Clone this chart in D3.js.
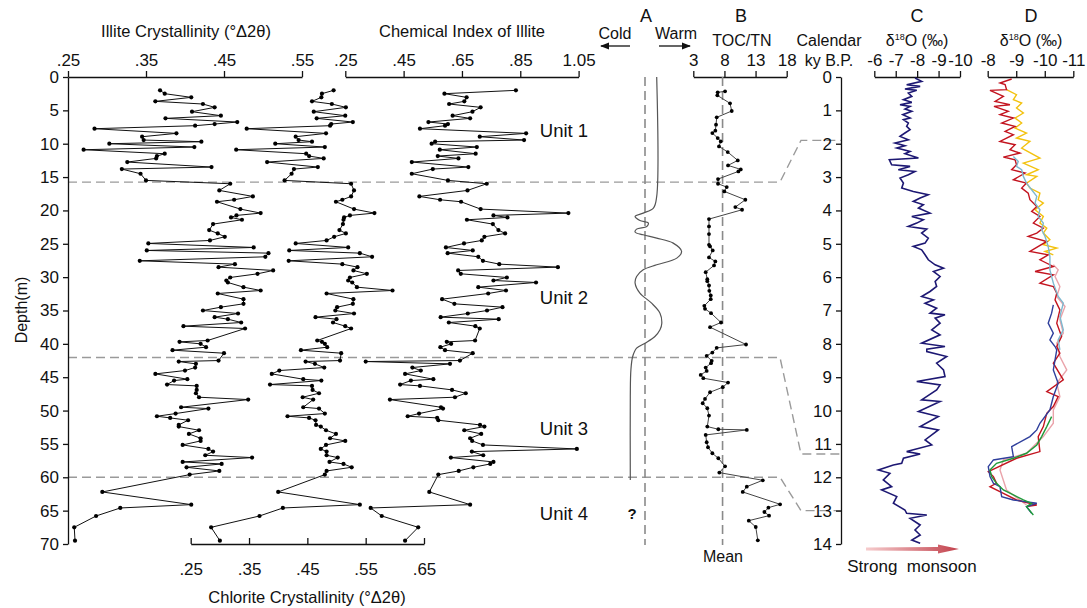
<!DOCTYPE html>
<html>
<head>
<meta charset="utf-8">
<script src="https://cdn.jsdelivr.net/npm/d3@7"></script>
<style>
body{margin:0;background:#fff;}
</style>
</head>
<body>
<svg id="chart" width="1087" height="608"></svg>
<script>
// sample depths (m), shared by the three clay mineral records
var depths = [2.0,2.5,3.05,3.65,4.05,4.55,5.2,5.8,6.2,6.75,
  7.05,7.3,7.75,8.45,8.95,9.45,9.7,10.0,10.5,10.9,
  11.5,11.85,12.2,12.75,13.5,13.8,14.5,15.5,16.0,17.0,
  17.9,18.4,18.7,19.8,20.4,20.75,21.05,21.4,22.05,22.95,
  23.45,23.95,24.5,24.95,25.55,26.0,26.4,26.95,27.55,28.05,
  28.5,29.0,29.5,30.05,30.5,30.8,31.5,32.0,32.45,33.3,
  34.0,34.5,35.0,35.45,36.0,36.3,36.8,37.35,37.7,39.5,
  39.7,40.0,40.5,40.95,41.4,42.5,42.65,43.0,43.55,44.0,
  44.5,45.3,45.5,46.1,46.3,46.9,47.4,48.0,48.35,49.5,
  49.7,50.45,50.85,51.1,51.45,52.15,52.4,52.95,53.5,54.15,
  54.55,55.15,55.75,56.15,56.7,57.05,57.7,58.0,58.5,59.05,
  59.6,62.2,64.1,64.6,65.8,67.5,69.5]

var illite = [.368,.374,.408,.362,.423,.438,.409,.446,.375,.467,
  .438,.413,.284,.389,.345,.347,.421,.303,.412,.270,
  .374,.364,.363,.326,.434,.319,.343,.350,.458,.444,
  .487,.463,.441,.471,.497,.466,.459,.473,.436,.431,
  .442,.451,.432,.353,.488,.351,.507,.503,.342,.464,
  .443,.513,.493,.458,.453,.455,.475,.497,.442,.475,
  .475,.446,.423,.468,.438,.455,.472,.398,.477,.429,
  .393,.420,.427,.384,.450,.443,.392,.414,.413,.400,
  .362,.403,.386,.377,.415,.415,.414,.418,.481,.395,
  .430,.388,.364,.381,.404,.392,.392,.418,.405,.420,
  .420,.397,.430,.436,.426,.486,.397,.447,.402,.444,
  .406,.294,.408,.317,.286,.258,.259]

var chlorite = [.495,.475,.474,.458,.492,.516,.461,.515,.466,.528,
  .491,.489,.346,.482,.430,.435,.458,.395,.480,.328,
  .448,.453,.478,.381,.468,.427,.423,.411,.525,.530,
  .525,.510,.499,.530,.565,.523,.513,.512,.511,.505,
  .516,.496,.483,.430,.520,.419,.540,.561,.418,.510,
  .536,.529,.552,.523,.520,.527,.535,.596,.483,.529,
  .528,.501,.498,.530,.464,.500,.494,.515,.525,.467,
  .475,.480,.484,.439,.508,.506,.447,.463,.479,.402,
  .389,.443,.474,.386,.458,.459,.470,.442,.460,.443,
  .470,.480,.416,.453,.464,.465,.473,.482,.499,.489,
  .515,.482,.473,.483,.483,.502,.488,.512,.526,.483,
  .480,.400,.540,.408,.368,.285,.300]

var chemIndex = [.835,.590,.666,.658,.606,.714,.686,.618,.678,.535,
  .602,.592,.506,.870,.711,.863,.558,.546,.701,.574,
  .697,.567,.638,.478,.672,.550,.478,.602,.735,.669,
  .504,.575,.647,.714,1.015,.758,.806,.667,.756,.775,
  .798,.727,.718,.657,.595,.687,.601,.706,.722,.778,
  .979,.637,.646,.804,.758,.904,.706,.801,.740,.582,
  .624,.789,.736,.670,.577,.776,.605,.696,.711,.695,
  .598,.613,.576,.592,.687,.643,.320,.609,.480,.509,
  .455,.552,.475,.438,.506,.616,.663,.626,.403,.578,
  .585,.503,.464,.565,.569,.712,.727,.658,.716,.678,
  .685,.722,1.044,.684,.723,.612,.758,.747,.689,.639,
  .569,.538,.678,.337,.375,.500,.455]

// TOC/TN record
var tocDepths = [2.15,2.3,2.75,3.95,5.1,6.05,7.15,8.05,8.4,9.15,
  9.65,10.4,11.25,12.5,13.25,13.85,14.15,15.3,16.0,16.5,
  17.15,18.4,19.5,19.9,21.3,22.4,23.55,25.15,25.4,26.0,
  27.05,27.65,28.25,29.25,30.3,30.6,31.25,32.05,32.75,33.3,
  34.3,34.75,35.4,36.8,37.5,40.1,40.6,41.3,41.8,42.55,
  42.9,43.55,44.05,44.65,45.15,45.8,46.5,47.25,48.25,48.9,
  49.65,50.75,52.4,52.8,52.9,53.65,54.75,55.5,56.4,57.15,
  58.35,59.3,60.45,61.4,62.2,64.05,64.55,65.2,65.75,66.5,
  67.45,69.45]
var tocTn = [8.10,6.92,6.86,8.90,9.17,6.76,6.65,6.54,6.06,6.92,
  7.41,7.13,8.53,10.14,8.58,10.62,10.24,6.97,6.97,8.37,
  7.98,11.36,9.75,10.83,5.52,5.52,5.52,5.52,5.69,6.12,
  5.52,6.54,6.33,4.99,5.25,5.25,5.52,5.57,5.80,5.80,
  4.77,4.88,5.85,7.45,5.69,11.47,6.76,6.06,5.15,5.96,
  5.85,4.99,5.15,4.19,4.61,8.58,7.73,5.69,4.88,4.51,
  5.25,5.52,5.25,7.02,11.59,4.99,5.15,5.36,6.06,7.02,
  8.10,7.18,14.16,11.59,10.94,16.94,15.06,14.42,15.17,11.91,
  13.03,13.36]
var tocMean = 7.7

// panel A: schematic cold/warm curve
var climateDepths = [0,17.9,19.65,20.4,20.9,21.5,21.9,22.4,22.8,23.25,
  23.65,24.15,24.9,26.15,27.15,28.15,28.9,29.9,30.9,32.4,
  33.9,35.4,36.9,37.9,38.9,39.9,40.65,41.9,43.9,47.9,60.4]
var climateIndex = [0.39,0.39,0.28,-0.06,-0.33,-0.17,0.11,0.06,-0.28,-0.33,
  -0.06,0.39,0.94,1.22,1.06,0.39,-0.06,-0.28,-0.33,-0.17,
  0.22,0.5,0.56,0.5,0.33,0,-0.28,-0.41,-0.47,-0.49,-0.49]

// unit boundaries and their ages
var unitNames = ["Unit 1", "Unit 2", "Unit 3", "Unit 4"]
var unitLabelDepths = [8.1, 33.1, 52.8, 65.5]
var boundaryDepths = [15.75, 42.05, 60]
var boundaryAges = [1.9, 11.3, 13]

// panel C: d18O record
var cAges = [0.03,0.13,0.23,0.28,0.36,0.40,0.48,0.58,0.68,0.76,
  0.83,0.88,0.96,1.03,1.13,1.23,1.28,1.38,1.48,1.58,
  1.68,1.78,1.88,1.98,2.06,2.13,2.23,2.30,2.43,2.48,
  2.63,2.68,2.78,2.83,2.93,3.03,3.18,3.33,3.43,3.53,
  3.63,3.73,3.83,3.93,4.08,4.18,4.28,4.38,4.48,4.56,
  4.68,4.83,4.98,5.08,5.18,5.33,5.48,5.63,5.73,5.83,
  5.98,6.13,6.28,6.43,6.58,6.68,6.78,6.93,7.08,7.13,
  7.23,7.38,7.58,7.73,7.98,8.08,8.16,
  8.23,8.38,8.58,8.78,8.98,9.13,9.23,9.38,9.68,9.73,
  10.03,10.18,10.48,10.58,10.88,11.03,11.23,11.30,11.43,11.58,
  11.63,11.78,11.88,12.08,12.28,12.38,12.58,12.78,12.98,13.08,
  13.13,13.23,13.43,13.58,13.73,13.88,13.98]
var cValues = [-7.90,-8.21,-7.51,-8.14,-7.43,-7.98,-7.59,-7.75,-7.36,-7.75,
  -7.20,-7.67,-7.43,-7.75,-7.33,-7.67,-7.36,-7.59,-7.51,-7.67,
  -7.43,-7.20,-7.59,-6.97,-7.43,-7.05,-7.67,-7.43,-8.06,-6.70,
  -6.81,-7.67,-7.12,-7.90,-7.59,-7.20,-7.36,-7.28,-7.82,-8.52,
  -8.14,-7.82,-8.29,-8.06,-8.60,-7.75,-8.29,-7.98,-7.59,-8.45,
  -8.21,-8.52,-8.37,-7.82,-8.21,-8.37,-8.52,-8.84,-9.23,-8.76,
  -9.07,-8.84,-8.91,-8.60,-8.21,-8.76,-8.37,-8.91,-8.60,-9.30,
  -8.84,-9.07,-8.68,-9.07,-8.21,-9.30,-8.45,
  -8.45,-9.38,-8.91,-9.23,-9.30,-7.98,-9.07,-8.91,-8.21,-9.07,
  -8.06,-8.99,-8.14,-8.99,-8.37,-8.68,-7.51,-8.14,-7.36,-7.28,
  -6.89,-6.19,-6.73,-6.42,-6.81,-6.34,-7.05,-6.89,-7.43,-7.51,
  -8.45,-7.67,-8.14,-7.90,-8.14,-7.75,-8.14]

// panel D: several d18O records
var dPinkAges = [5.63,5.78,5.98,6.28,6.58,6.88,7.28,7.68,7.98,8.38,8.78,9.18,9.58,9.98,10.38,10.78,11.28,11.48,11.78,12.38,12.68,12.83]
var dPinkValues = [-10.30,-10.47,-10.36,-10.53,-10.42,-10.71,-10.53,-10.65,-10.42,-10.53,-10.77,-10.42,-10.53,-10.30,-10.30,-9.95,-9.36,-8.55,-8.43,-8.66,-9.13,-9.36]

var dRedAges = [0.06,0.18,0.23,0.38,0.40,0.58,0.73,0.83,0.88,1.03,
  1.13,1.23,1.38,1.48,1.63,1.73,1.93,2.03,2.18,2.28,
  2.40,2.48,2.63,2.78,2.88,3.08,3.18,3.33,3.48,3.68,
  3.88,4.03,4.18,4.38,4.53,4.68,4.78,4.93,5.23,5.33,
  5.48,5.68,5.83,5.93,6.18,6.28,6.48,6.68,6.98,7.38,
  7.78,8.08,8.28,8.58,9.08,9.43,9.58,9.88,10.08,10.48,
  10.78,11.23,11.43,11.83,11.98,12.18,12.28,12.48,12.68,12.83,12.88]
var dRedValues = [-8.84,-8.43,-8.61,-8.66,-8.08,-8.55,-8.26,-8.78,-8.22,-8.72,
  -8.43,-8.90,-8.49,-8.96,-8.61,-8.90,-8.43,-8.96,-8.78,-9.13,
  -8.55,-8.96,-9.01,-8.84,-9.31,-8.90,-9.36,-9.19,-9.42,-9.48,
  -9.72,-9.54,-9.83,-9.60,-9.95,-9.72,-9.42,-10.07,-9.48,-10.12,
  -9.83,-10.30,-9.66,-10.30,-9.83,-10.30,-10.42,-10.36,-10.53,-10.42,
  -10.59,-10.42,-10.53,-10.30,-10.65,-10.07,-10.47,-10.30,-10.07,-9.95,
  -9.77,-9.83,-9.01,-8.02,-8.20,-8.31,-8.08,-8.55,-9.01,-9.72,-9.36]

var dYellowAges = [0.38,0.53,0.68,0.78,0.93,1.08,1.23,1.38,1.53,1.68,
  1.83,1.93,2.13,2.43,2.58,2.78,2.93,2.98,3.18,3.33,
  3.48,3.68,3.78,3.98,4.18,4.38,4.53,4.68,4.88,5.03,5.13,5.23,5.33]
var dYellowValues = [-8.66,-9.01,-8.90,-9.19,-9.01,-9.25,-8.96,-9.19,-8.96,-9.36,
  -9.01,-9.48,-9.19,-9.83,-9.25,-9.77,-9.36,-9.72,-9.36,-9.48,
  -9.83,-9.77,-9.95,-9.66,-9.95,-9.83,-10.07,-9.95,-10.18,-9.95,-10.42,-10.01,-10.30]

var dLightBlueAges = [2.38,2.53,2.68,2.78,2.98,3.18,3.38,3.58,3.78,3.98,
  4.18,4.38,4.58,4.78,5.08,5.38,5.78,6.18,6.58,6.78,7.18,7.58,7.88,8.18]
var dLightBlueValues = [-8.90,-9.07,-9.01,-9.19,-9.25,-9.36,-9.54,-9.72,-9.66,-9.83,
  -9.77,-9.95,-9.89,-10.01,-10.12,-10.18,-10.18,-10.30,-10.47,-10.65,-10.53,-10.65,-10.47,-10.53]

var dBlueAges = [6.83,7.08,7.38,7.68,7.88,8.08,8.18,8.78,9.18,9.58,
  9.98,10.38,10.58,10.78,11.08,11.38,11.48,11.68,11.98,12.18,
  12.28,12.58,12.68,12.78,12.88,13.08]
var dBlueValues = [-10.30,-10.24,-10.12,-10.30,-10.18,-10.36,-10.42,-10.30,-10.47,-10.30,
  -10.18,-9.83,-9.72,-9.48,-8.84,-8.90,-8.20,-8.02,-8.08,-8.20,
  -8.43,-8.49,-8.90,-9.72,-9.36,-9.54]

var dGreenAges = [10.18,10.48,10.78,11.03,11.28,11.43,11.58,11.78,11.98,12.18,12.38,12.53,12.68,12.78,12.88,13.13]
var dGreenValues = [-10.24,-10.07,-9.89,-9.72,-9.36,-8.90,-8.31,-8.08,-8.14,-8.31,-8.55,-8.90,-9.25,-9.54,-9.36,-9.60]

var illiteTicks = [0.25, 0.35, 0.45, 0.55]
var chemTicks = [0.25, 0.45, 0.65, 0.85, 1.05]
var chloriteTicks = [0.25, 0.35, 0.45, 0.55, 0.65]
var tocTicks = [3, 8, 13, 18]
var cTicks = [-6, -7, -8, -9, -10]
var dTicks = [-8, -9, -10, -11]
var depthTicks = d3.range(0, 71, 5)
var ageTicks = d3.range(0, 15)

var font = "'Liberation Sans', Arial, sans-serif"
var svg = d3.select("#chart").attr("font-family", font)

var yDepth = d3.scaleLinear().domain([0, 70]).range([77, 544])
var yAge = d3.scaleLinear().domain([0, 14]).range([77, 544])
var xIllite = d3.scaleLinear().domain([0.25, 0.55]).range([68, 302])
var xChlorite = d3.scaleLinear().domain([0.25, 0.65]).range([190.7, 424])
var xChem = d3.scaleLinear().domain([0.25, 1.05]).range([345.3, 578.6])
var xClimate = d3.scaleLinear().domain([-1, 1]).range([615, 675])
var xToc = d3.scaleLinear().domain([3, 18]).range([693.3, 786.7])
var xC = d3.scaleLinear().domain([-6, -10]).range([874.3, 960])
var xD = d3.scaleLinear().domain([-8, -11]).range([987.7, 1073.3])

var noZero = d => d3.format(".2f")(d).replace(/^0/, "")

function styleAxis(g, size){
  g.attr("font-family", font).attr("font-size", size)
  g.select(".domain").attr("stroke", "#111").attr("stroke-width", 1.3)
  g.selectAll(".tick line").attr("stroke", "#111").attr("stroke-width", 1.3)
  g.selectAll(".tick text").attr("fill", "#111")
}

function topAxis(scale, ticks, fmt){
  var g = svg.append("g")
    .attr("transform", "translate(0,77)")
    .call(d3.axisTop(scale).tickValues(ticks).tickFormat(fmt).tickSize(6).tickSizeOuter(0).tickPadding(5))
  styleAxis(g, 17)
}

// unit boundary dashed lines (behind everything)
boundaryDepths.forEach(function(d, i){
  var pts = [[68, yDepth(d)], [780, yDepth(d)], [801, yAge(boundaryAges[i])], [841, yAge(boundaryAges[i])]]
  svg.append("path")
    .attr("d", d3.line()(pts))
    .attr("fill", "none")
    .attr("stroke", "#9a9a9a")
    .attr("stroke-width", 1.4)
    .attr("stroke-dasharray", "9,5")
})

// axes
topAxis(xIllite, illiteTicks, noZero)
topAxis(xChem, chemTicks, noZero)
topAxis(xToc, tocTicks, d => String(d))
topAxis(xC, cTicks, d => String(d))
topAxis(xD, dTicks, d => String(d))

var gDepth = svg.append("g")
  .attr("transform", "translate(68,0)")
  .call(d3.axisLeft(yDepth).tickValues(depthTicks).tickSize(5).tickSizeOuter(0).tickPadding(4))
styleAxis(gDepth, 17)

var gAge = svg.append("g")
  .attr("transform", "translate(841,0)")
  .call(d3.axisLeft(yAge).tickValues(ageTicks).tickSize(5).tickSizeOuter(0).tickPadding(4))
styleAxis(gAge, 17)

var gChl = svg.append("g")
  .attr("transform", "translate(0,544)")
  .call(d3.axisBottom(xChlorite).tickValues(chloriteTicks).tickFormat(noZero).tickSize(-6).tickSizeOuter(0).tickPadding(19))
styleAxis(gChl, 17)

// depth profiles with markers
function profile(values, scale){
  var pts = depths.map((d, i) => [scale(values[i]), yDepth(d)])
  svg.append("path")
    .attr("d", d3.line()(pts))
    .attr("fill", "none")
    .attr("stroke", "#111")
    .attr("stroke-width", 1)
  svg.append("g").selectAll("circle")
    .data(pts)
    .enter()
    .append("circle")
      .attr("cx", d => d[0])
      .attr("cy", d => d[1])
      .attr("r", 2.1)
      .attr("fill", "#000")
}
profile(illite, xIllite)
profile(chlorite, xChlorite)
profile(chemIndex, xChem)

// panel A
svg.append("line")
  .attr("x1", xClimate(0)).attr("x2", xClimate(0))
  .attr("y1", 77).attr("y2", 545)
  .attr("stroke", "#8a8a8a").attr("stroke-width", 1.6).attr("stroke-dasharray", "9,5")
svg.append("path")
  .attr("d", d3.line().curve(d3.curveCatmullRom.alpha(0.5))(climateDepths.map((d, i) => [xClimate(climateIndex[i]), yDepth(d)])))
  .attr("fill", "none")
  .attr("stroke", "#555")
  .attr("stroke-width", 1.2)

// panel B
svg.append("line")
  .attr("x1", xToc(tocMean)).attr("x2", xToc(tocMean))
  .attr("y1", 77).attr("y2", 545)
  .attr("stroke", "#8a8a8a").attr("stroke-width", 1.6).attr("stroke-dasharray", "9,5")
var tocPts = tocDepths.map((d, i) => [xToc(tocTn[i]), yDepth(d)])
svg.append("path")
  .attr("d", d3.line()(tocPts))
  .attr("fill", "none")
  .attr("stroke", "#444")
  .attr("stroke-width", 1)
svg.append("g").selectAll("circle")
  .data(tocPts)
  .enter()
  .append("circle")
    .attr("cx", d => d[0])
    .attr("cy", d => d[1])
    .attr("r", 1.9)
    .attr("fill", "#000")

// panel C
svg.append("path")
  .attr("d", d3.line()(cAges.map((a, i) => [xC(cValues[i]), yAge(a)])))
  .attr("fill", "none")
  .attr("stroke", "#1d1873")
  .attr("stroke-width", 1.6)

// panel D
var dSeries = [
  {ages: dPinkAges, values: dPinkValues, color: "#eaa3aa"},
  {ages: dYellowAges, values: dYellowValues, color: "#f3c20f"},
  {ages: dRedAges, values: dRedValues, color: "#c3141f"},
  {ages: dLightBlueAges, values: dLightBlueValues, color: "#7db8cf"},
  {ages: dBlueAges, values: dBlueValues, color: "#2f3f9c"},
  {ages: dGreenAges, values: dGreenValues, color: "#1e9a3a"}
]
dSeries.forEach(function(s){
  svg.append("path")
    .attr("d", d3.line()(s.ages.map((a, i) => [xD(s.values[i]), yAge(a)])))
    .attr("fill", "none")
    .attr("stroke", s.color)
    .attr("stroke-width", 1.4)
})

// texts
function label(x, y, txt, size, anchor){
  return svg.append("text")
    .attr("x", x).attr("y", y)
    .attr("text-anchor", anchor || "middle")
    .style("font-size", size + "px")
    .attr("fill", "#111")
    .text(txt)
}
label(186, 37, "Illite Crystallinity (°Δ2θ)", 16.5)
label(462, 37, "Chemical Index of Illite", 16.5)
label(307, 603, "Chlorite Crystallinity (°Δ2θ)", 16.5)
svg.append("text")
  .attr("transform", "translate(27,310) rotate(-90)")
  .attr("text-anchor", "middle")
  .style("font-size", "16px")
  .attr("fill", "#111")
  .text("Depth(m)")

unitNames.forEach(function(u, i){
  label(564, yDepth(unitLabelDepths[i]) + 6, u, 18.5)
})

label(646, 22, "A", 18)
label(615, 39, "Cold", 16)
label(676, 39, "Warm", 16)
label(741, 22, "B", 18)
label(742, 46, "TOC/TN", 16)
label(829, 46, "Calendar", 16)
label(829, 66, "ky B.P.", 16)
label(917, 22, "C", 18)
label(1031, 22, "D", 18)
label(632, 519, "?", 15).style("font-weight", "bold")
label(723, 562, "Mean", 16)
label(912, 572, "Strong\u00a0\u00a0monsoon", 17)

function deltaTitle(x){
  var t = svg.append("text")
    .attr("x", x).attr("y", 46)
    .attr("text-anchor", "middle")
    .style("font-size", "16px")
    .attr("fill", "#111")
  t.append("tspan").text("δ")
  t.append("tspan").text("18").style("font-size", "9px").attr("dy", -6)
  t.append("tspan").text("O (‰)").attr("dy", 6)
}
deltaTitle(917)
deltaTitle(1031)

// cold / warm arrows
var defs = svg.append("defs")
defs.append("marker")
  .attr("id", "head")
  .attr("viewBox", "0 0 10 10")
  .attr("refX", 9).attr("refY", 5)
  .attr("markerWidth", 7).attr("markerHeight", 7)
  .attr("orient", "auto")
  .append("path")
    .attr("d", "M0,1L10,5L0,9Z")
    .attr("fill", "#111")
svg.append("line")
  .attr("x1", 630).attr("x2", 601).attr("y1", 46).attr("y2", 46)
  .attr("stroke", "#111").attr("stroke-width", 1.3)
  .attr("marker-end", "url(#head)")
svg.append("line")
  .attr("x1", 659).attr("x2", 690).attr("y1", 46).attr("y2", 46)
  .attr("stroke", "#111").attr("stroke-width", 1.3)
  .attr("marker-end", "url(#head)")

// strong monsoon arrow
var grad = defs.append("linearGradient").attr("id", "monsoon")
grad.append("stop").attr("offset", "0%").attr("stop-color", "#f6cccd")
grad.append("stop").attr("offset", "100%").attr("stop-color", "#c2414c")
svg.append("path")
  .attr("d", "M866,547.5L938,547L938,544.5L959,549L938,553.5L938,551L866,550.5Z")
  .attr("fill", "url(#monsoon)")
</script>
</body>
</html>
